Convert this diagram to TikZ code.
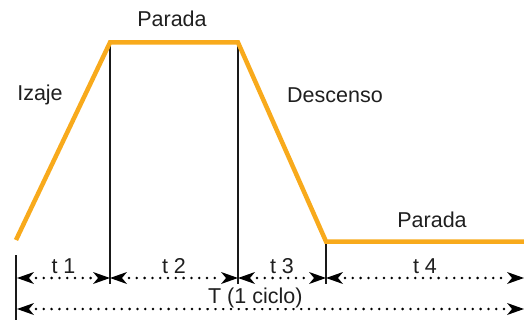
\documentclass[tikz,border=0pt]{standalone}
\usepackage{fontspec}
\setmainfont{Liberation Sans}
\usetikzlibrary{arrows.meta}
\definecolor{izaje}{HTML}{F8AA1C}
\colorlet{texto}{black!88}
\tikzset{
  punta/.tip={Stealth[length=17pt,width=12pt,inset=5pt,line width=0pt]},
  perfil/.style={draw=izaje,line width=4.5pt,line join=miter},
  marca/.style={draw=black!90,line width=2pt},
  cota/.style={draw=black,line width=2.8pt,dash pattern=on 0pt off 7.8pt,line cap=round,
    shorten <=19pt,shorten >=19pt,
    postaction={draw=none,solid,line width=1pt,tips,{punta}-{punta},shorten <=0pt,shorten >=0pt}},
  rotulo/.style={font=\fontsize{21.5}{21.5}\selectfont,text=texto,inner sep=0pt,anchor=base},
  tiempo/.style={rotulo,fill=white,inner xsep=1.5pt,inner ysep=0pt}
}
\begin{document}
\begin{tikzpicture}[x=1pt,y=-1pt]
    \useasboundingbox (0,0) rectangle (524,320);
    % Points
    \coordinate (p0) at (16,240);
    \coordinate (p1) at (110,42.5);
    \coordinate (p2) at (238,42.5);
    \coordinate (p3) at (326,241.5);
    \coordinate (p4) at (524,241.5);
    \coordinate (a0) at (17,278);
    \coordinate (a1) at (110,278);
    \coordinate (a2) at (238,278);
    \coordinate (a3) at (326,278);
    \coordinate (a4) at (524,278);
    \coordinate (b0) at (17,309);
    \coordinate (b1) at (524,309);
    % Marks
    \draw[marca] (16,255) -- (16,320);
    \draw[marca] (110,45) -- (110,284);
    \draw[marca] (238,45) -- (238,284);
    \draw[marca] (326,244) -- (326,284);
    % Cycle
    \draw[perfil] (p0) -- (p1) -- (p2) -- (p3) -- (p4);
    % Labels
    \node[rotulo] (parada1) at (172,27) {Parada};
    \node[rotulo] (izaje) at (40,101) {Izaje};
    \node[rotulo] (descenso) at (335,103) {Descenso};
    \node[rotulo] (parada2) at (432,227) {Parada};
    % Times
    \draw[cota] (a0) -- (a1) node[tiempo,midway,yshift=4.5pt] (t1) {t 1};
    \draw[cota] (a1) -- (a2) node[tiempo,midway,yshift=4.5pt] (t2) {t 2};
    \draw[cota] (a2) -- (a3) node[tiempo,midway,yshift=4.5pt] (t3) {t 3};
    \draw[cota] (a3) -- (a4) node[tiempo,midway,yshift=4.5pt] (t4) {t 4};
    \draw[cota] (b0) -- (b1) node[tiempo,pos=0.47,yshift=5.5pt] (ciclo) {T (1 ciclo)};
\end{tikzpicture}
\end{document}
